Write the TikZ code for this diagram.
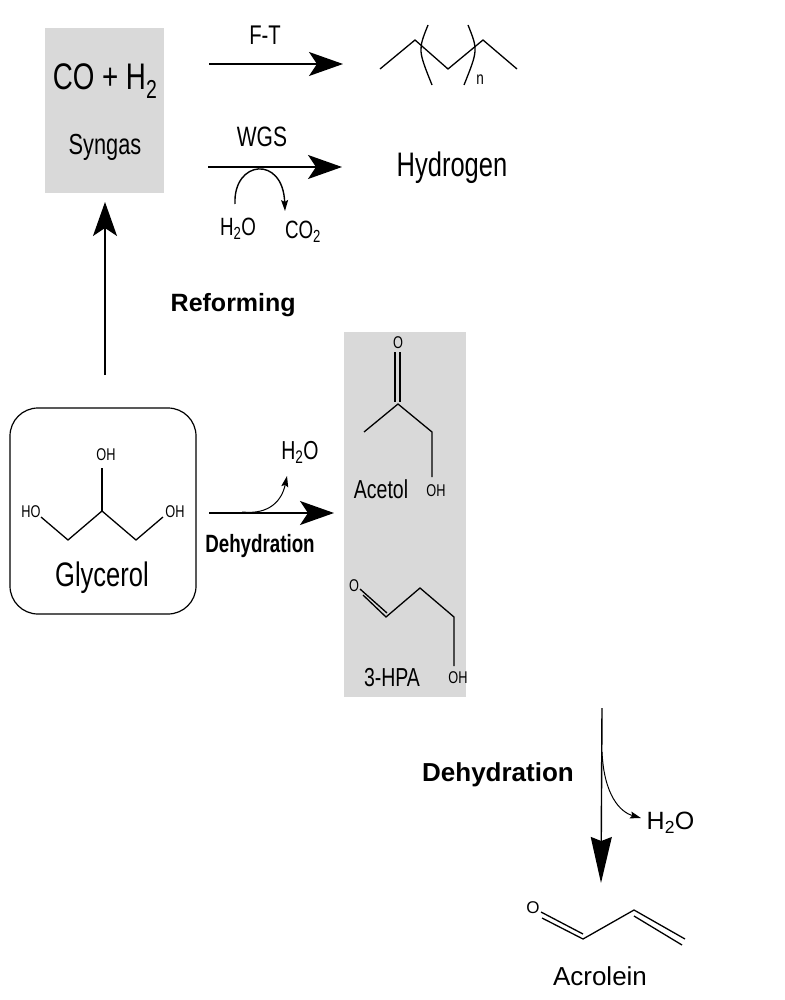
\documentclass[tikz,border=0pt]{standalone}
\usepackage{fontspec}
\setmainfont{Liberation Sans}
\usetikzlibrary{arrows.meta}
\newcommand{\sub}[1]{\textsubscript{#1}}
\begin{document}
\begin{tikzpicture}[x=1pt,y=-1pt,line width=1.4pt,
  big/.style={-{Stealth[length=34pt,width=24pt,inset=8pt]}},
  small/.style={-{Stealth[length=11pt,width=7pt,inset=2pt]}},
  t/.style={inner sep=0pt,font=\fontsize{#1}{#1}\selectfont},
  c/.style={xscale=0.75,transform shape},
  gray/.style={fill=black!15,draw=none},
  bond/.style={line width=1.3pt,line join=miter}]
\useasboundingbox (0,0) rectangle (784,1000);
% syngas box
\path[gray] (45,28) rectangle (164,193);
\node[t=37,c] (co) at (105,81) {CO + H\sub{2}};
\node[t=29,c] (syn) at (105,147) {Syngas};
% F-T
\coordinate (ft1) at (209,64); \coordinate (ft2) at (343,64);
\draw[big] (ft1) -- (ft2);
\node[t=27,c] (ftl) at (265,35) {F-T};
% alkane
\draw[bond] (380,69) -- (415,40) -- (448,69) -- (483,40) -- (517,69);
\draw[bond] (428,25) .. controls (418,50) .. (432,85);
\draw[bond] (468,25) .. controls (478,50) .. (464,85);
\node[t=18,c] (n) at (480,80) {n};
% WGS
\coordinate (w1) at (208,167); \coordinate (w2) at (342,167);
\draw[big] (w1) -- (w2);
\node[t=28,c] (wgs) at (262,137) {WGS};
\coordinate (wa) at (235,204); \coordinate (wb) at (285,211);
\draw[small] (wa) .. controls (233,160) and (283,155) .. (wb);
\node[t=25,c] (h2oa) at (238,229) {H\sub{2}O};
\node[t=25,c] (co2) at (303,232) {CO\sub{2}};
\node[t=34,c] (hyd) at (452,168) {Hydrogen};
% reforming
\coordinate (r1) at (105,375); \coordinate (r2) at (105,202);
\draw[big] (r1) -- (r2);
\node[font=\fontsize{25}{25}\selectfont\bfseries,inner sep=0pt,anchor=west] (ref) at (170,305) {Reforming};
% glycerol
\draw[line width=1.2pt,rounded corners=28pt] (10,408) rectangle (196,614);
\draw[bond] (41,517) -- (68,540) -- (102,511) -- (136,540) -- (163,517);
\draw[bond] (102,511) -- (102,468);
\node[t=17,c] (oh1) at (31,512) {HO};
\node[t=17,c] (oh2) at (175,512) {OH};
\node[t=17,c] (oh3) at (106,455) {OH};
\node[t=34,c] (gly) at (102,578) {Glycerol};
% dehydration 1
\coordinate (d1) at (209,513); \coordinate (d2) at (334,513);
\draw[big] (d1) -- (d2);
\node[font=\fontsize{25}{25}\selectfont\bfseries,inner sep=0pt,c] (deh1) at (260,546) {Dehydration};
\coordinate (hs) at (242,512); \coordinate (he) at (287,476);
\draw[small,line width=1pt] (hs) .. controls (270,515) and (282,500) .. (he);
\node[t=26,c] (h2ob) at (300,452) {H\sub{2}O};
% intermediates box
\path[gray] (344,332) rectangle (466,697);
\node[t=17,c] (o1) at (398,343) {O};
\draw[bond] (395,352) -- (395,402) (400,352) -- (400,402);
\draw[bond] (364,432) -- (398,404) -- (432,432) -- (432,477);
\node[t=17,c] (oh4) at (436,491) {OH};
\node[t=26,c] (acetol) at (381,489) {Acetol};
\node[t=17,c] (o2) at (354,586) {O};
\draw[bond] (360,589) -- (387,613) (363,595) -- (386,617) -- (420,588) -- (454,617) -- (454,666);
\node[t=17,c] (oh5) at (458,678) {OH};
\node[t=26,c] (hpa) at (392,678) {3-HPA};
% dehydration 2
\coordinate (e1) at (602,708); \coordinate (e2) at (601,883);
\draw[-{Stealth[length=46pt,width=21pt,inset=4pt]}] (e1) -- (e2);
\node[font=\fontsize{26}{26}\selectfont\bfseries,inner sep=0pt] (deh2) at (498,775) {Dehydration};
\coordinate (fs) at (602,752); \coordinate (fe) at (641,818);
\draw[small,line width=1pt] (fs) .. controls (604,795) and (620,812) .. (fe);
\node[t=25,anchor=west] (h2oc) at (646,823) {H\sub{2}O};
% acrolein
\node[t=17] (o3) at (533,908) {O};
\draw[bond] (541,912) -- (583,934) (542,918) -- (583,939) -- (634,910) -- (685,939) (634,916) -- (682,945);
\node[t=26] (acr) at (600,976) {Acrolein};
\end{tikzpicture}
\end{document}
